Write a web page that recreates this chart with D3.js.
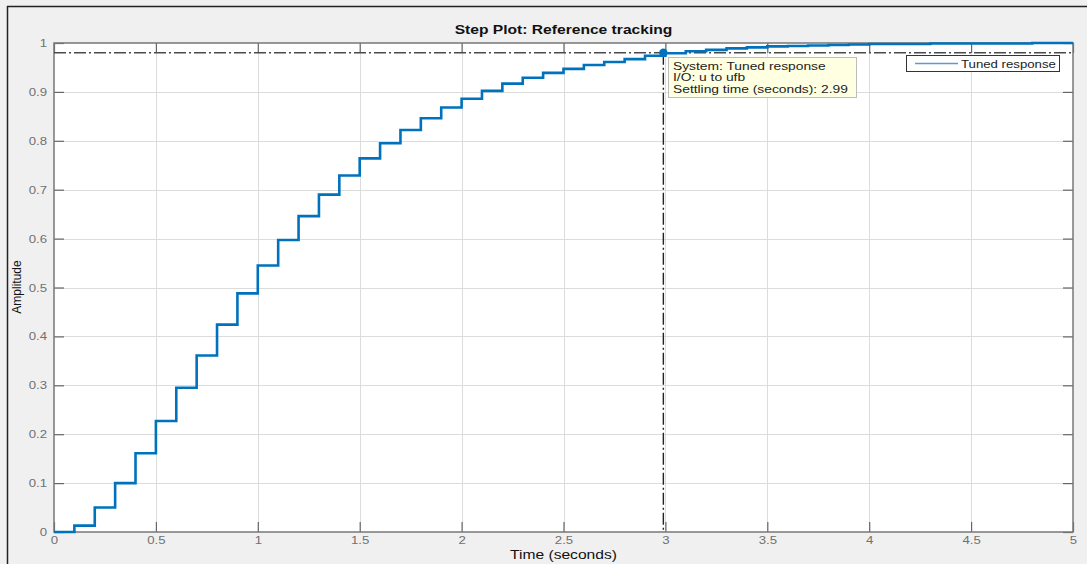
<!DOCTYPE html>
<html>
<head>
<meta charset="utf-8">
<script src="https://cdn.jsdelivr.net/npm/d3@7"></script>
<style>
  html, body { margin: 0; padding: 0; background: #f0f0f0; }
  svg { display: block; }
  text { font-family: "Liberation Sans", Arial, Helvetica, sans-serif; }
</style>
</head>
<body>
<svg id="chart" width="1087" height="564"></svg>
<script>
// ---- data ----
const title = "Step Plot: Reference tracking";
const xLabel = "Time (seconds)";
const yLabel = "Amplitude";
const seriesName = "Tuned response";
const sampleTime = 0.1;
// amplitude held over each 0.1 s sample interval, starting at t = 0
const amplitude = [
  0.000, 0.013, 0.050, 0.100, 0.161, 0.227, 0.295, 0.361, 0.424, 0.488,
  0.545, 0.597, 0.646, 0.690, 0.729, 0.764, 0.795, 0.822, 0.846, 0.868,
  0.886, 0.902, 0.917, 0.929, 0.939, 0.947, 0.955, 0.961, 0.967, 0.974,
  0.979, 0.983, 0.986, 0.989, 0.991, 0.993, 0.994, 0.995, 0.996, 0.997,
  0.998, 0.998, 0.998, 0.999, 0.999, 0.999, 0.999, 0.999, 1.000, 1.000
];
const xTicks = [0, 0.5, 1, 1.5, 2, 2.5, 3, 3.5, 4, 4.5, 5];
const yTicks = [0, 0.1, 0.2, 0.3, 0.4, 0.5, 0.6, 0.7, 0.8, 0.9, 1];
const settlingTime = 2.99;
const settlingBand = 0.98;
const tipLines = ["System: Tuned response", "I/O: u to ufb", "Settling time (seconds): 2.99"];

// ---- layout ----
const svg = d3.select("#chart");
const L = 54, R = 1073, T = 43, B = 532;
const x = d3.scaleLinear().domain([0, 5]).range([L, R]);
const y = d3.scaleLinear().domain([0, 1]).range([B, T]);
const stretch = 1.2; // reference text is horizontally stretched
function widen(sel) {
  sel.each(function () {
    const w = this.getComputedTextLength();
    if (w > 0) d3.select(this).attr("textLength", w * stretch).attr("lengthAdjust", "spacingAndGlyphs");
  });
}

// figure frame lines (top & left)
svg.append("line").attr("x1", 7).attr("x2", 1087).attr("y1", 6.5).attr("y2", 6.5).attr("stroke", "#222").attr("stroke-width", 1.5);
svg.append("line").attr("x1", 7.5).attr("x2", 7.5).attr("y1", 6).attr("y2", 564).attr("stroke", "#222").attr("stroke-width", 1.5);

// plot background
svg.append("rect").attr("x", L).attr("y", T).attr("width", R - L).attr("height", B - T).attr("fill", "#fff");

// grid
const grid = svg.append("g");
grid.selectAll(".gx").data(xTicks.slice(1, -1)).join("line")
  .attr("x1", d => Math.round(x(d)) + 0.5).attr("x2", d => Math.round(x(d)) + 0.5)
  .attr("y1", T).attr("y2", B).attr("stroke", "#dcdcdc").attr("stroke-width", 1);
grid.selectAll(".gy").data(yTicks.slice(1, -1)).join("line")
  .attr("y1", d => Math.round(y(d)) + 0.5).attr("y2", d => Math.round(y(d)) + 0.5)
  .attr("x1", L).attr("x2", R).attr("stroke", "#dcdcdc").attr("stroke-width", 1);

// axes with inward ticks on all sides
const tickCol = "#666";
function styleAxis(g) {
  g.select(".domain").attr("stroke", "none");
  g.selectAll(".tick line").attr("stroke", tickCol).attr("stroke-width", 1.2);
  g.selectAll(".tick text").attr("fill", "#707070").attr("font-size", 11).call(widen);
}
svg.append("g").attr("transform", `translate(0,${B})`)
  .call(d3.axisBottom(x).tickValues(xTicks).tickSize(-10).tickPadding(4).tickFormat(d3.format("")))
  .call(styleAxis);
svg.append("g").attr("transform", `translate(0,${T})`)
  .call(d3.axisTop(x).tickValues(xTicks).tickSize(-10).tickFormat(""))
  .call(styleAxis);
svg.append("g").attr("transform", `translate(${L},0)`)
  .call(d3.axisLeft(y).tickValues(yTicks).tickSize(-10).tickPadding(7).tickFormat(d3.format("")))
  .call(styleAxis);
svg.append("g").attr("transform", `translate(${R},0)`)
  .call(d3.axisRight(y).tickValues(yTicks).tickSize(-10).tickFormat(""))
  .call(styleAxis);

// axes box
svg.append("rect").attr("x", L).attr("y", T).attr("width", R - L).attr("height", B - T)
  .attr("fill", "none").attr("stroke", "#777").attr("stroke-width", 1.5);

// settling band & settling time lines
const dash = "12,3,2,3";
svg.append("line").attr("x1", L).attr("x2", R).attr("y1", y(settlingBand)).attr("y2", y(settlingBand))
  .attr("stroke", "#4a4a4a").attr("stroke-width", 1.4).attr("stroke-dasharray", dash);
svg.append("line").attr("x1", x(settlingTime)).attr("x2", x(settlingTime))
  .attr("y1", y(settlingBand)).attr("y2", B)
  .attr("stroke", "#222").attr("stroke-width", 1.4).attr("stroke-dasharray", dash);

// step response
const pts = amplitude.map((v, i) => [i * sampleTime, v]);
pts.push([5, amplitude[amplitude.length - 1]]);
const line = d3.line().x(d => x(d[0])).y(d => y(d[1])).curve(d3.curveStepAfter);
svg.append("path").datum(pts).attr("d", line)
  .attr("fill", "none").attr("stroke", "#0072BD").attr("stroke-width", 2.6).attr("stroke-linejoin", "miter");

// settling marker
svg.append("circle").attr("cx", x(settlingTime)).attr("cy", y(settlingBand)).attr("r", 4.2).attr("fill", "#0072BD");

// datatip
const tipX = 668, tipY = 57;
svg.append("rect").attr("x", tipX + 0.5).attr("y", tipY + 0.5).attr("width", 188).attr("height", 40)
  .attr("fill", "#ffffe1").attr("stroke", "#bdbdbd").attr("stroke-width", 1);
svg.append("g").selectAll("text").data(tipLines).join("text")
  .attr("x", tipX + 5).attr("y", (d, i) => tipY + 12.5 + i * 11.7)
  .attr("font-size", 11.5).attr("fill", "#222").text(d => d).call(widen);

// legend
const lg = svg.append("g");
lg.append("rect").attr("x", 906.5).attr("y", 55.5).attr("width", 153).attr("height", 16)
  .attr("fill", "#fff").attr("stroke", "#333").attr("stroke-width", 1);
lg.append("line").attr("x1", 915).attr("x2", 958).attr("y1", 63.5).attr("y2", 63.5)
  .attr("stroke", "#5b9bd5").attr("stroke-width", 1.5);
lg.append("text").attr("x", 961).attr("y", 67.5).attr("font-size", 11).attr("fill", "#222").text(seriesName).call(widen);

// title and labels
svg.append("text").attr("x", (L + R) / 2).attr("y", 34).attr("text-anchor", "middle")
  .attr("font-size", 13).attr("font-weight", "bold").attr("fill", "#111").text(title).call(widen);
svg.append("text").attr("x", (L + R) / 2).attr("y", 559).attr("text-anchor", "middle")
  .attr("font-size", 13).attr("fill", "#111").text(xLabel).call(widen);
svg.append("text").attr("transform", `translate(21,287) rotate(-90)`).attr("text-anchor", "middle")
  .attr("font-size", 12).attr("fill", "#111").text(yLabel);
</script>
</body>
</html>
